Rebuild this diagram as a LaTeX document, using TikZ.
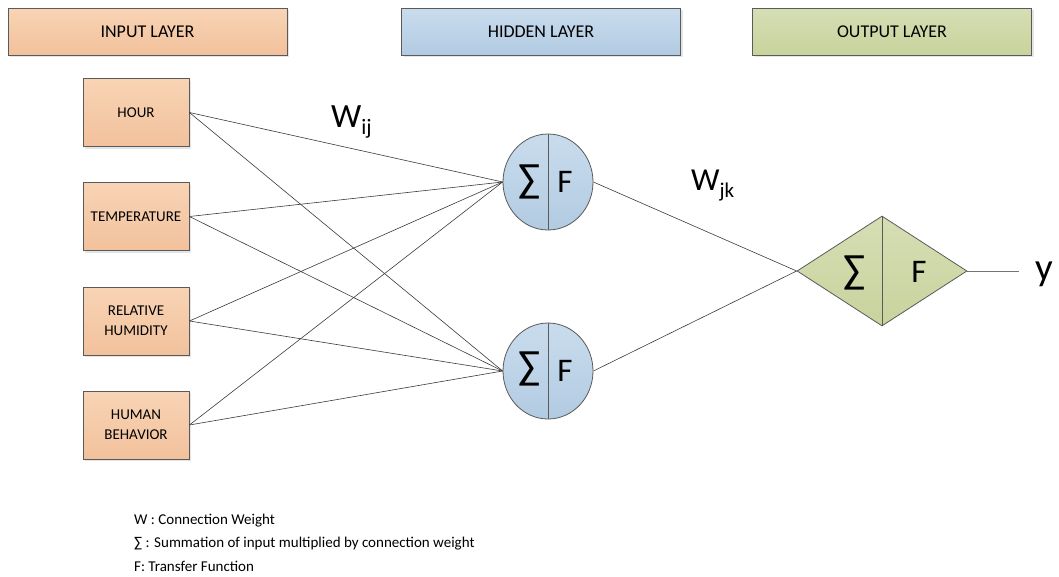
\documentclass[tikz,border=0pt]{standalone}
\usepackage{fontspec}
\setmainfont{Carlito}
\usetikzlibrary{shapes.geometric,shadows}
\definecolor{orT}{HTML}{F8D4B5}
\definecolor{orB}{HTML}{F2C19C}
\definecolor{blT}{HTML}{C9DCED}
\definecolor{blB}{HTML}{B2CBE2}
\definecolor{grT}{HTML}{D6DEB4}
\definecolor{grB}{HTML}{C8D39D}
\definecolor{bord}{HTML}{5A5A5A}
\definecolor{wire}{HTML}{3A3A3A}
\tikzset{
  shd/.style={drop shadow={shadow xshift=2pt,shadow yshift=-2pt,opacity=0.25,fill=black!40}},
  layerbox/.style={draw=bord, line width=0.8pt, minimum width=279pt, minimum height=47pt, inner sep=0pt, font=\fontsize{18}{20}\selectfont, shd},
  inbox/.style={draw=bord, line width=0.8pt, minimum width=106pt, minimum height=68pt, inner sep=0pt, align=center, font=\fontsize{15}{20}\selectfont, top color=orT, bottom color=orB, shd},
  neuron/.style={ellipse, draw=bord, line width=0.8pt, minimum width=90pt, minimum height=96pt, inner sep=0pt, top color=blT, bottom color=blB},
  outneuron/.style={diamond, draw=bord, line width=0.8pt, minimum width=170pt, minimum height=110pt, inner sep=0pt, top color=grT, bottom color=grB},
  sym/.style={font=\fontsize{33}{36}\selectfont, inner sep=0pt},
  sigma/.style={font=\fontsize{41}{44}\selectfont, inner sep=0pt},
  wirel/.style={draw=wire, line width=0.6pt},
  legend/.style={anchor=base west, font=\fontsize{15}{17}\selectfont, inner sep=0pt},
}
\begin{document}
\begin{tikzpicture}[x=1pt,y=-1pt]
\useasboundingbox (0,0) rectangle (1059,576);
% headers
\node[layerbox, top color=orT, bottom color=orB] (hin) at (147.5,31.5) {INPUT LAYER};
\node[layerbox, top color=blT, bottom color=blB] (hhid) at (541,31.5) {HIDDEN LAYER};
\node[layerbox, top color=grT, bottom color=grB] (hout) at (892,31.5) {OUTPUT LAYER};
% inputs
\node[inbox] (in1) at (136,112.5) {HOUR};
\node[inbox] (in2) at (136,216.5) {TEMPERATURE};
\node[inbox] (in3) at (136,321) {RELATIVE\\HUMIDITY};
\node[inbox] (in4) at (136,425) {HUMAN\\BEHAVIOR};
% hidden neurons
\node[neuron] (h1) at (548,182) {};
\node[neuron] (h2) at (548,371) {};
\draw[draw=bord, line width=0.8pt] (h1.north) -- (h1.south);
\draw[draw=bord, line width=0.8pt] (h2.north) -- (h2.south);
\node[sigma] (h1s) at (530,182) {∑};
\node[sym] (h1f) at (565,182) {F};
\node[sigma] (h2s) at (530,369) {∑};
\node[sym] (h2f) at (565,371) {F};
% output neuron
\node[outneuron] (o) at (882,271) {};
\draw[draw=bord, line width=0.8pt] (o.north) -- (o.south);
\node[sigma] (os) at (855,273) {∑};
\node[sym] (of) at (919,272) {F};
% connections
\foreach \i in {1,2,3,4} {
  \draw[wirel] (in\i.east) -- (h1.west);
  \draw[wirel] (in\i.east) -- (h2.west);
}
\draw[wirel] (h1.east) -- (o.west);
\draw[wirel] (h2.east) -- (o.west);
\coordinate (yend) at (1019,271);
\draw[draw=black!55, line width=0.8pt] (o.east) -- (yend);
\node[anchor=north west, inner sep=0pt, font=\fontsize{39}{42}\selectfont] (ylab) at (1035,262) {y};
% weights
\node[anchor=base west, inner sep=0pt, font=\fontsize{34}{36}\selectfont] (wij) at (331,127) {W\raisebox{-7pt}{\fontsize{22}{24}\selectfont ij}};
\node[anchor=base west, inner sep=0pt, font=\fontsize{32}{36}\selectfont] (wjk) at (691,190) {W\raisebox{-7pt}{\fontsize{21}{24}\selectfont jk}};
% legend
\node[legend] (l1) at (134,524) {W : Connection Weight};
\node[legend] (l2) at (134,547) {∑ : Summation of input multiplied by connection weight};
\node[legend] (l3) at (134,571) {F: Transfer Function};
\end{tikzpicture}
\end{document}
